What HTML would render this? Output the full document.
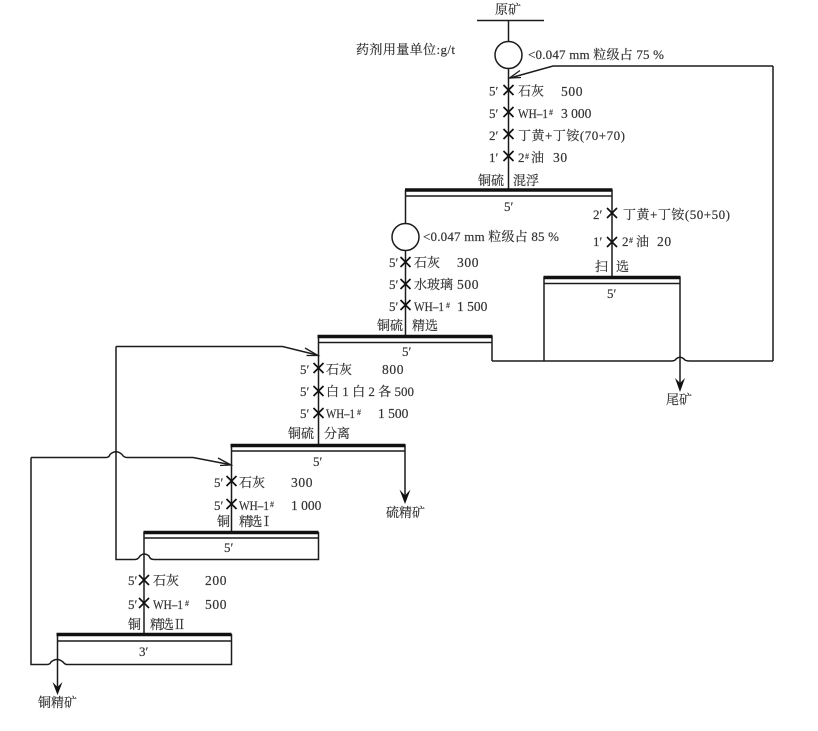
<!DOCTYPE html>
<html>
<head>
<meta charset="utf-8">
<style>
html,body{margin:0;padding:0;background:#fff;}
svg{display:block;}
text{font-family:"Liberation Serif","Noto Serif CJK SC",serif;font-size:13px;fill:#333;stroke:#333;stroke-width:.18;}
.n{letter-spacing:.6px;font-size:13.500px;}
.s{font-size:8px;}
.l{fill:none;stroke:#1c1c1c;stroke-width:1.500;}
.t{fill:none;stroke:#111;stroke-width:3.400;}
.x{fill:none;stroke:#111;stroke-width:1.700;}
.a{fill:none;stroke:#1c1c1c;stroke-width:1.300;}
</style>
</head>
<body>
<svg width="818" height="731" viewBox="0 0 818 731" xmlns="http://www.w3.org/2000/svg">
<path class="l" d="M477 20.500H544M508.500 20.500V41.500"/>
<circle class="l" cx="508.500" cy="55" r="13.500"/>
<path class="l" d="M508.500 68.500V189"/>
<path class="l" d="M773 66H553L510 78M773 66V361M492 361H671Q675 361 676 359Q680 355.500 684 359Q685 361 690 361H773"/>
<path class="l" d="M405.500 190V223.500"/>
<circle class="l" cx="405.500" cy="237" r="13.500"/>
<path class="l" d="M405.500 250.500V336"/>
<path class="l" d="M612 190V277"/>
<path class="l" d="M405.500 196H612M544 283.500H680M544 277V361M680 277V385"/>
<path class="l" d="M318.500 342.500H492M318.500 336V445M492 336V361"/>
<path class="l" d="M116 346.500H282.500L317 355"/>
<path class="l" d="M116 346.500V559.500H135Q138 559.500 140 556Q144 552 149 556Q150 559.500 154 559.500H318.500V532"/>
<path class="l" d="M231.500 451H405M231.500 445V532M405 445V498"/>
<path class="l" d="M31 457.500H106Q109 457.500 110 454.500Q116 449 122 454.500Q124 457.500 127 457.500H193L229.500 464.500"/>
<path class="l" d="M31 457.500V664.500H47Q50 664.500 51 662Q57 657 63 662Q65 664.500 67 664.500H231.500V634"/>
<path class="l" d="M144 532V634M144 538H318.500M57.500 634V688M57.500 641H231.500"/>
<path class="t" d="M405 190H612.500M543.500 277.500H680.500M317.500 336.500H492.500M230.500 445.500H405.500M143.500 532.500H318.500M56.500 634.500H231.500"/>
<path class="a" d="M520 70.500L509.500 78L521 77.500"/>
<path class="a" d="M305 348L318 355.500L306.500 355.500"/>
<path class="a" d="M218 458L231 465L220 465.500"/>
<g fill="#111">
<path d="M680 392L675 378L680 383L685 378Z"/>
<path d="M405 504L399.500 489.500L405 495.500L410.500 489.500Z"/>
<path d="M57.500 695L52.500 682L57.500 687L62.500 682Z"/>
</g>
<path class="x" d="M503.500 85L513.500 95M513.500 85L503.500 95M503.500 107L513.500 117M513.500 107L503.500 117M503.500 129L513.500 139M513.500 129L503.500 139M503.500 151L513.500 161M513.500 151L503.500 161"/>
<path class="x" d="M607 208L617 218M617 208L607 218M607 237L617 247M617 237L607 247"/>
<path class="x" d="M400.500 257L410.500 267M410.500 257L400.500 267M400.500 279L410.500 289M410.500 279L400.500 289M400.500 300L410.500 310M410.500 300L400.500 310"/>
<path class="x" d="M313.500 363L323.500 373M323.500 363L313.500 373M313.500 386L323.500 396M323.500 386L313.500 396M313.500 408L323.500 418M323.500 408L313.500 418"/>
<path class="x" d="M226.500 476L236.500 486M236.500 476L226.500 486M226.500 499L236.500 509M236.500 499L226.500 509"/>
<path class="x" d="M139 575L149 585M149 575L139 585M139 598L149 608M149 598L139 608"/>

<text x="495" y="14" textLength="26">原矿</text>
<text x="356" y="54" textLength="99">药剂用量单位:g/t</text>
<text x="528" y="59" textLength="136">&lt;0.047 mm 粒级占 75 %</text>
<text x="489" y="95.500">5′</text><text x="518" y="95.500">石灰</text><text class="n" x="561" y="96">500</text>
<text x="489" y="118">5′</text><text x="518" y="118" textLength="30" lengthAdjust="spacingAndGlyphs">WH–1</text><text class="s" x="549" y="115">#</text><text class="n" x="561" y="118" textLength="31">3 000</text>
<text x="489" y="140">2′</text><text x="518" y="140" textLength="107">丁黄+丁铵(70+70)</text>
<text x="489" y="162">1′</text><text x="518" y="162">2</text><text class="s" x="525" y="159">#</text><text x="531" y="162">油</text><text class="n" x="553" y="162">30</text>
<text x="478" y="185">铜硫</text><text x="513" y="185">混浮</text>
<text x="504" y="211">5′</text>
<text x="593" y="219">2′</text><text x="623" y="219" textLength="107">丁黄+丁铵(50+50)</text>
<text x="593" y="246">1′</text><text x="622" y="246">2</text><text class="s" x="629" y="243">#</text><text x="636" y="246">油</text><text class="n" x="657" y="246">20</text>
<text x="595" y="271">扫</text><text x="616" y="271">选</text>
<text x="607" y="298">5′</text>
<text x="423" y="241" textLength="136">&lt;0.047 mm 粒级占 85 %</text>
<text x="389" y="267">5′</text><text x="414" y="267">石灰</text><text class="n" x="457" y="267">300</text>
<text x="389" y="289">5′</text><text x="414" y="289">水玻璃</text><text class="n" x="457" y="289">500</text>
<text x="389" y="311">5′</text><text x="414" y="311" textLength="30" lengthAdjust="spacingAndGlyphs">WH–1</text><text class="s" x="446" y="308">#</text><text class="n" x="457" y="311" textLength="31">1 500</text>
<text x="377" y="330">铜硫</text><text x="412" y="330">精选</text>
<text x="402" y="356">5′</text>
<text x="300" y="374">5′</text><text x="326" y="374">石灰</text><text class="n" x="382" y="374">800</text>
<text x="300" y="396">5′</text><text x="326" y="396" textLength="88">白 1 白 2 各 500</text>
<text x="300" y="418">5′</text><text x="326" y="418" textLength="29" lengthAdjust="spacingAndGlyphs">WH–1</text><text class="s" x="357" y="415">#</text><text class="n" x="378" y="418" textLength="31">1 500</text>
<text x="288" y="438">铜硫</text><text x="324" y="438">分离</text>
<text x="313" y="466">5′</text>
<text x="214" y="487">5′</text><text x="239" y="487">石灰</text><text class="n" x="291" y="487">300</text>
<text x="214" y="510">5′</text><text x="239" y="510" textLength="30" lengthAdjust="spacingAndGlyphs">WH–1</text><text class="s" x="270" y="507">#</text><text class="n" x="291" y="510" textLength="31">1 000</text>
<text x="217" y="526">铜</text><text x="239" y="526" textLength="34">精选 Ⅰ</text>
<text x="386" y="517">硫精矿</text>
<text x="666" y="404">尾矿</text>
<text x="224" y="552">5′</text>
<text x="128" y="585">5′</text><text x="153" y="585">石灰</text><text class="n" x="205" y="585">200</text>
<text x="128" y="609">5′</text><text x="153" y="609" textLength="30" lengthAdjust="spacingAndGlyphs">WH–1</text><text class="s" x="185" y="606">#</text><text class="n" x="205" y="609">500</text>
<text x="128" y="629">铜</text><text x="150" y="629" textLength="36">精选 Ⅱ</text>
<text x="139" y="656">3′</text>
<text x="38" y="707">铜精矿</text>
</svg>
</body>
</html>
